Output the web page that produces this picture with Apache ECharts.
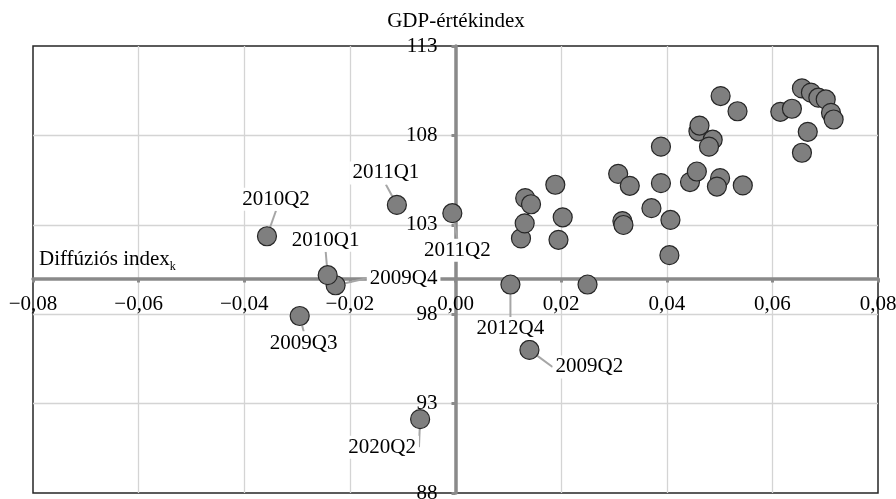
<!DOCTYPE html>
<html>
<head>
<meta charset="utf-8">
<script src="https://cdn.jsdelivr.net/npm/echarts@6/dist/echarts.min.js"></script>
<style>html,body{margin:0;padding:0;background:#fff}#c{width:896px;height:499px}</style>
</head>
<body>
<div id="c"></div>
<script>
// Diffúziós index (x) and GDP-értékindex (y)
const diffusion = [
  0.0140, -0.0295, -0.0227, -0.0242, -0.0357, -0.0111, -0.0006, 0.0104, -0.0067,
  0.0250, 0.0124, 0.0131, 0.0132, 0.0143, 0.0189, 0.0203, 0.0195,
  0.0308, 0.0330, 0.0316, 0.0318, 0.0371, 0.0389, 0.0389, 0.0407, 0.0405,
  0.0444, 0.0457, 0.0460, 0.0462, 0.0487, 0.0480, 0.0501, 0.0495, 0.0502,
  0.0534, 0.0544, 0.0615, 0.0637, 0.0656, 0.0667, 0.0656, 0.0673, 0.0687,
  0.0701, 0.0711, 0.0716
];
const gdpIndex = [
  96.00, 97.90, 99.62, 100.18, 102.36, 104.11, 103.65, 99.66, 92.13,
  99.66, 102.24, 103.08, 104.49, 104.15, 105.24, 103.42, 102.16,
  105.85, 105.18, 103.21, 102.99, 103.93, 105.33, 107.37, 103.27, 101.30,
  105.39, 105.98, 108.23, 108.55, 107.76, 107.37, 105.61, 105.14, 110.20,
  109.35, 105.20, 109.32, 109.49, 107.03, 108.20, 110.63, 110.39, 110.11,
  110.01, 109.26, 108.89
];
const pointLabels = [
  '2009Q2', '2009Q3', '2009Q4', '2010Q1', '2010Q2', '2011Q1', '2011Q2', '2012Q4', '2020Q2'
];
const xTicks = [-0.08, -0.06, -0.04, -0.02, 0, 0.02, 0.04, 0.06, 0.08];
const yTicks = [88, 93, 98, 103, 108, 113];

// label placement (offset of label centre from its point, px)
const labelOffsets = {
  '2009Q2': [60, 17], '2009Q3': [4, 27], '2009Q4': [68, -7], '2010Q1': [-2, -35],
  '2010Q2': [9, -37], '2011Q1': [-11, -32], '2011Q2': [5, 37], '2012Q4': [0, 44],
  '2020Q2': [-38, 28]
};

const FONT = '"Liberation Serif", "Times New Roman", serif';
const FS = 21;
const fmtX = v => (v < -1e-9 ? '\u2212' : '') + Math.abs(v).toFixed(2).replace('.', ',');

const data = diffusion.map((x, i) => {
  const lbl = pointLabels[i] || '';
  return { value: [x, gdpIndex[i]], name: lbl, label: { show: !!lbl }, labelLine: { show: !!lbl } };
});

const chart = echarts.init(document.getElementById('c'), null, { renderer: 'canvas' });
const W = 896, H = 499, GL = 33, GR = 18, GT = 46, GB = 6;
const xMin = xTicks[0], xMax = xTicks[xTicks.length - 1];
const yMin = yTicks[0], yMax = yTicks[yTicks.length - 1];
const crossY = GT + (H - GT - GB) * (yMax - 100) / (yMax - yMin);
const crossX = GL + (W - GL - GR) * (0 - xMin) / (xMax - xMin);

const gridLine = { show: true, showMinLine: false, showMaxLine: false, lineStyle: { color: '#d4d4d4', width: 1.3 } };
const axisLineStyle = { color: '#8a8a8a', width: 3.5 };
const tickStyle = { show: true, length: 4, lineStyle: { color: '#8a8a8a', width: 3 } };

chart.setOption({
  animation: false,
  backgroundColor: '#fff',
  title: [
    { text: 'GDP-értékindex', left: 456, top: 11, padding: 0, textAlign: 'center',
      textStyle: { fontFamily: FONT, fontSize: FS, fontWeight: 'normal', color: '#000' } },
    { text: '{a|Diffúziós index}{b|k}', left: 39, top: 249, padding: 0,
      textStyle: { fontFamily: FONT, fontWeight: 'normal', color: '#000',
        rich: {
          a: { fontFamily: FONT, fontSize: FS, lineHeight: FS, verticalAlign: 'top', color: '#000' },
          b: { fontFamily: FONT, fontSize: 12, lineHeight: 12, padding: [12, 0, 0, 0], verticalAlign: 'top', color: '#000' }
        } } }
  ],
  grid: [
    { left: GL, right: GR, top: GT, bottom: GB, show: true, borderColor: '#262626', borderWidth: 1.5,
      backgroundColor: 'transparent', containLabel: false, outerBoundsMode: 'none' },
    { left: GL, right: GR, top: GT, bottom: H - crossY, show: false, containLabel: false, outerBoundsMode: 'none' },
    { left: crossX, right: GR, top: GT, bottom: GB, show: false, containLabel: false, outerBoundsMode: 'none' }
  ],
  xAxis: [
    { gridIndex: 0, type: 'value', min: xMin, max: xMax, interval: 0.02,
      axisLine: { show: false }, axisTick: { show: false }, axisLabel: { show: false }, splitLine: gridLine },
    { gridIndex: 1, type: 'value', min: xMin, max: xMax, interval: 0.02,
      axisLine: { show: true, onZero: false, lineStyle: axisLineStyle },
      axisTick: tickStyle,
      axisLabel: { show: true, margin: 16, fontFamily: FONT, fontSize: FS, color: '#000', formatter: fmtX,
        showMinLabel: true, showMaxLabel: true },
      splitLine: { show: false } },
    { gridIndex: 2, type: 'value', min: 0, max: xMax, show: false }
  ],
  yAxis: [
    { gridIndex: 0, type: 'value', min: yMin, max: yMax, interval: 5,
      axisLine: { show: false }, axisTick: { show: false }, axisLabel: { show: false }, splitLine: gridLine },
    { gridIndex: 1, type: 'value', min: 100, max: yMax, show: false },
    { gridIndex: 2, type: 'value', position: 'left', min: yMin, max: yMax, interval: 5,
      axisLine: { show: true, onZero: false, lineStyle: axisLineStyle },
      axisTick: tickStyle,
      axisLabel: { show: true, margin: 18, fontFamily: FONT, fontSize: FS, color: '#000',
        showMinLabel: true, showMaxLabel: true },
      splitLine: { show: false } }
  ],
  series: [{
    type: 'scatter',
    xAxisIndex: 0, yAxisIndex: 0,
    z: 5,
    symbol: 'circle', symbolSize: 19,
    itemStyle: { color: '#7f7f7f', borderColor: '#262626', borderWidth: 1.2, opacity: 1 },
    label: { position: 'inside', formatter: '{b}', fontFamily: FONT, fontSize: FS, color: '#000',
      backgroundColor: '#fff', padding: [1, 3] },
    labelLine: { lineStyle: { color: '#a6a6a6', width: 2 } },
    labelLayout: function (p) {
      const off = labelOffsets[pointLabels[p.dataIndex]];
      if (!off) return {};
      return { dx: off[0], dy: off[1] };
    },
    emphasis: { disabled: true },
    data: data
  }]
});
</script>
</body>
</html>
